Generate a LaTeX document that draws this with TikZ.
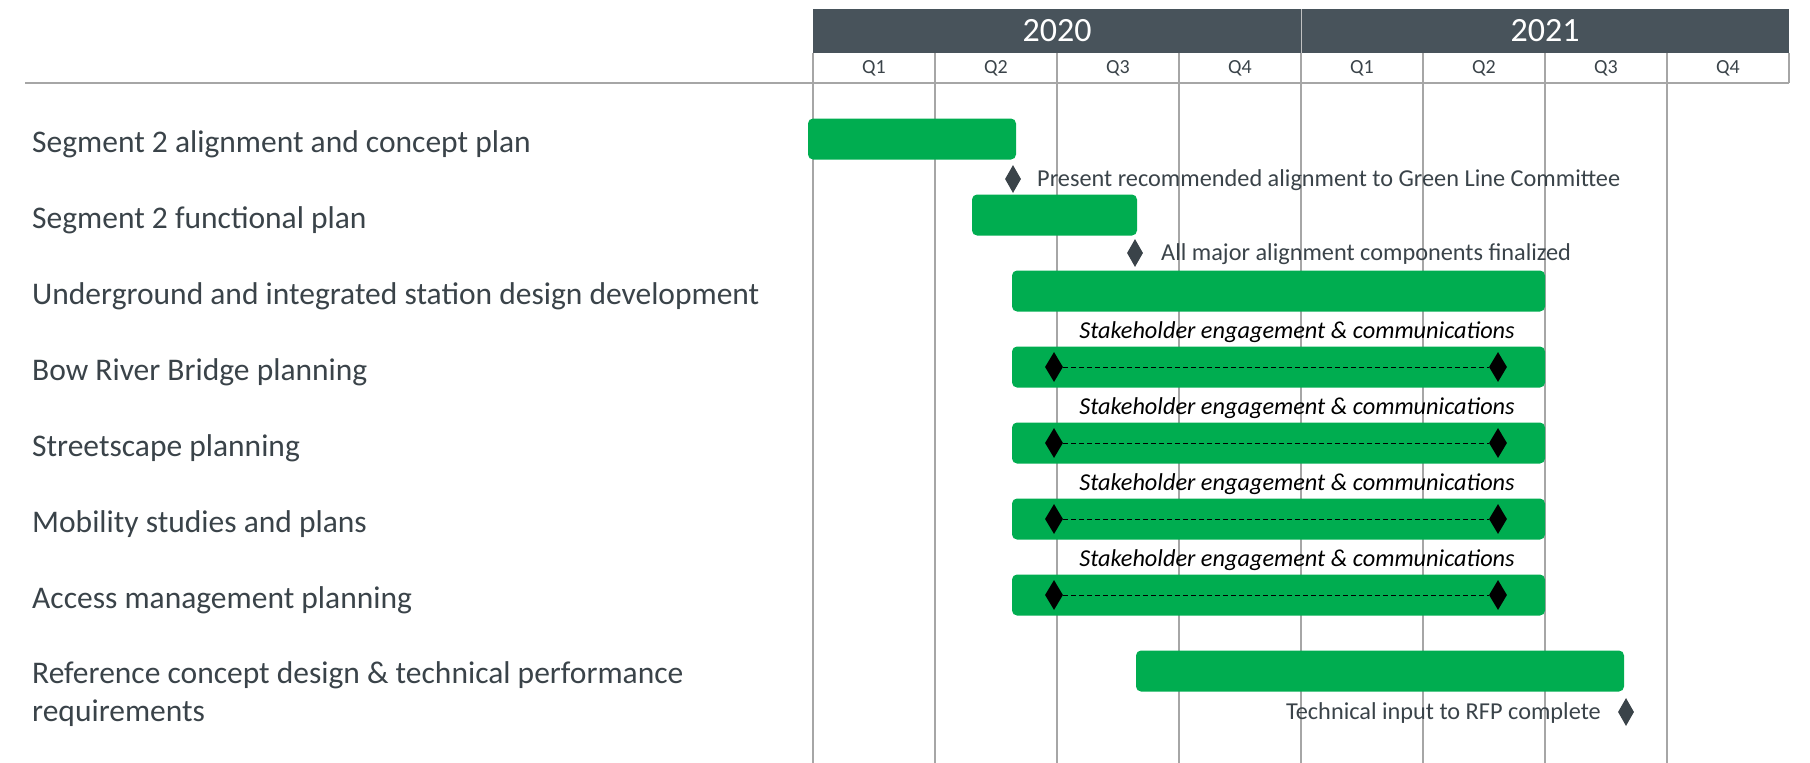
\documentclass[tikz,border=0pt]{standalone}
\usepackage{fontspec}
\setmainfont{Carlito}
\usetikzlibrary{shapes.geometric}
\definecolor{hdr}{HTML}{48535B}
\definecolor{bargreen}{HTML}{00AD50}
\definecolor{ink}{HTML}{3A4349}
\definecolor{gridc}{HTML}{A6A6A6}
\begin{document}
\begin{tikzpicture}[x=1pt,y=-1pt,
  taskbar/.style={rectangle, rounded corners=5pt, fill=bargreen, draw=none,
    inner sep=0pt, minimum height=41pt},
  tasklabel/.style={anchor=west, inner sep=0pt, text=ink, align=left,
    font=\fontsize{31.5}{38}\selectfont},
  msdiamond/.style={diamond, fill=ink, inner sep=0pt, minimum width=16pt, minimum height=28pt},
  blackdiamond/.style={diamond, fill=black, inner sep=0pt, minimum width=18pt, minimum height=30pt},
  mstext/.style={inner sep=0pt, text=ink, font=\fontsize{24.3}{29}\selectfont},
  engage/.style={inner sep=0pt, text=black, font=\fontsize{24.3}{29}\selectfont\itshape},
  yearlabel/.style={text=white, inner sep=0pt, font=\fontsize{34}{40}\selectfont},
  qlabel/.style={text=ink, inner sep=0pt, font=\fontsize{20}{24}\selectfont},
  gridline/.style={draw=gridc, line width=1.4pt},
  linkline/.style={draw=black, line width=1pt, dash pattern=on 5pt off 3pt}]
\useasboundingbox (0,0) rectangle (1810,763);

% timeline grid
\foreach \k in {0,...,7}
  \draw[gridline] (813+122*\k,53) -- (813+122*\k,763);
\draw[gridline] (1789,53) -- (1789,83);
\draw[gridc, line width=2pt] (25,83) -- (1789,83);

% year header
\fill[hdr] (813,9) rectangle (1789,53);
\draw[gridc!70!white, line width=1pt] (1301,9) -- (1301,53);
\node[yearlabel] (y2020) at (1057,31) {2020};
\node[yearlabel] (y2021) at (1545,31) {2021};
\foreach \q [count=\i from 0] in {Q1,Q2,Q3,Q4,Q1,Q2,Q3,Q4}
  \node[qlabel] (q\i) at (874+122*\i,68) {\q};

% task labels
\node[tasklabel] (l1) at (32,144) {Segment 2 alignment and concept plan};
\node[tasklabel] (l2) at (32,220) {Segment 2 functional plan};
\node[tasklabel] (l3) at (32,296) {Underground and integrated station design development};
\node[tasklabel] (l4) at (32,372) {Bow River Bridge planning};
\node[tasklabel] (l5) at (32,448) {Streetscape planning};
\node[tasklabel] (l6) at (32,524) {Mobility studies and plans};
\node[tasklabel] (l7) at (32,600) {Access management planning};
\node[tasklabel] (l8) at (32,694) {Reference concept design \& technical performance\\requirements};

% task bars
\node[taskbar, minimum width=208pt] (b1) at (912,139) {};
\node[taskbar, minimum width=165pt] (b2) at (1054.5,215) {};
\node[taskbar, minimum width=533pt] (b3) at (1278.5,291) {};
\node[taskbar, minimum width=533pt] (b4) at (1278.5,367) {};
\node[taskbar, minimum width=533pt] (b5) at (1278.5,443) {};
\node[taskbar, minimum width=533pt] (b6) at (1278.5,519) {};
\node[taskbar, minimum width=533pt] (b7) at (1278.5,595) {};
\node[taskbar, minimum width=488pt] (b8) at (1380,671) {};

% milestones
\node[msdiamond] (m1) at (1013,179) {};
\node[mstext, anchor=west] (t1) at (1037,180) {Present recommended alignment to Green Line Committee};
\node[msdiamond] (m2) at (1135,253) {};
\node[mstext, anchor=west] (t2) at (1161,254) {All major alignment components finalized};
\node[msdiamond] (m3) at (1626,712) {};
\node[mstext, anchor=east] (t3) at (1601,713) {Technical input to RFP complete};

% engagement spans
\foreach \r/\y in {4/367,5/443,6/519,7/595}{
  \node[blackdiamond] (s\r) at (1054,\y) {};
  \node[blackdiamond] (e\r) at (1498,\y) {};
  \draw[linkline] (s\r) -- (e\r);
  \node[engage] (g\r) at (1297,\y-34.5) {Stakeholder engagement \& communications};
}
\end{tikzpicture}
\end{document}
